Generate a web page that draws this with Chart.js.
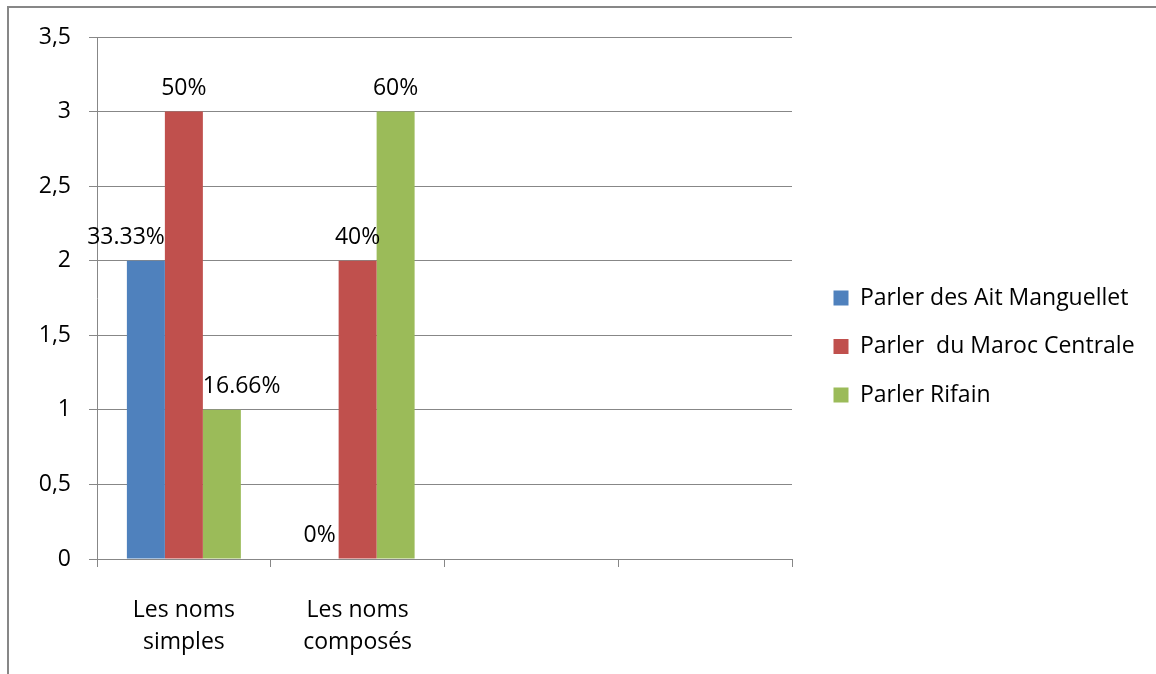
<!DOCTYPE html>
<html>
<head>
<meta charset="utf-8">
<script src="https://cdn.jsdelivr.net/npm/chart.js@4/dist/chart.umd.min.js"></script>
<style>
  html, body { margin: 0; padding: 0; background: #ffffff; }
  #wrap { position: relative; width: 1156px; height: 674px; overflow: hidden; }
  #frame { position: absolute; left: 7px; top: 6px; width: 1200px; height: 700px;
           border-top: 2px solid #878787; border-left: 2px solid #878787; pointer-events: none; }
  canvas { position: absolute; left: 0; top: 0; }
</style>
</head>
<body>
<div id="wrap">
  <canvas id="c" width="1156" height="674"></canvas>
  <div id="frame"></div>
</div>
<script>
// ---- data ----
const categories = [["Les noms", "simples"], ["Les noms", "composés"], "", ""];
const seriesNames = ["Parler des Ait Manguellet", "Parler  du Maroc Centrale", "Parler Rifain"];
const aitManguellet = [2, 0, null, null];
const marocCentrale = [3, 2, null, null];
const rifain = [1, 3, null, null];
const aitLabels = ["33.33%", "0%"];
const marocLabels = ["50%", "40%"];
const rifainLabels = ["16.66%", "60%"];
const yTickLabels = ["0", "0,5", "1", "1,5", "2", "2,5", "3", "3,5"];

// ---- style ----
const FONT = "'Open Sans'";
const FS = 23;
const GRID = "#878787";
const COLORS = ["#4F81BD", "#C0504D", "#9BBB59"];

const LEG_PAD = 25.5, LEG_BOX = 15, SPACER = 16, PLOT_RIGHT = 792;
const PAD_BOTTOM = 18, PLOT_BOTTOM = 559;
const mctx = document.createElement("canvas").getContext("2d");
mctx.font = FS + "px " + FONT;
const maxText = Math.max(...seriesNames.map(n => mctx.measureText(n).width));
const legendWidth = LEG_PAD + LEG_BOX + FS / 2 + maxText + 10;
const padRight = Math.max(0, 1156 - (PLOT_RIGHT + SPACER + legendWidth));

const valueLabelPlugin = {
  id: "valueLabels",
  afterDatasetsDraw(chart, args, opts) {
    const ctx = chart.ctx;
    ctx.save();
    ctx.font = opts.size + "px " + opts.family;
    ctx.fillStyle = opts.color;
    ctx.textBaseline = "alphabetic";
    opts.labels.forEach((arr, di) => {
      const meta = chart.getDatasetMeta(di);
      arr.forEach((txt, i) => {
        const bar = meta.data[i];
        if (!bar || !txt) return;
        const al = opts.align[i][di];
        let x = bar.x;
        if (al === "right") x = bar.x + bar.width / 2;
        if (al === "left") x = bar.x - bar.width / 2;
        ctx.textAlign = al;
        ctx.fillText(txt, x, bar.y - opts.gap);
      });
    });
    ctx.restore();
  }
};

new Chart(document.getElementById("c"), {
  type: "bar",
  data: {
    labels: categories,
    datasets: [
      { label: seriesNames[0], data: aitManguellet, backgroundColor: COLORS[0] },
      { label: seriesNames[1], data: marocCentrale, backgroundColor: COLORS[1] },
      { label: seriesNames[2], data: rifain, backgroundColor: COLORS[2] }
    ]
  },
  options: {
    responsive: false,
    animation: false,
    devicePixelRatio: 1,
    layout: { padding: { top: 37, left: 0, bottom: PAD_BOTTOM, right: padRight } },
    datasets: { bar: { barPercentage: 1, categoryPercentage: 0.656 } },
    scales: {
      x: {
        grid: { display: true, drawOnChartArea: false, drawTicks: true, tickLength: 8, color: GRID, offset: true },
        border: { display: true, color: GRID },
        ticks: { color: "#000", font: { family: FONT, size: FS, lineHeight: 1.4 }, padding: 27, maxRotation: 0, autoSkip: false },
        afterFit(s) { s.height = 674 - PAD_BOTTOM - PLOT_BOTTOM; }
      },
      y: {
        min: 0, max: 3.5,
        grid: { color: GRID, tickLength: 8, drawTicks: true },
        border: { display: true, color: GRID },
        ticks: { stepSize: 0.5, color: "#000", padding: 18, font: { family: FONT, size: FS },
                 callback: (v, i) => yTickLabels[i] },
        afterFit(s) { s.width = 97; }
      },
      spacer: {
        type: "linear", position: "right", display: true,
        grid: { display: false, drawTicks: false },
        ticks: { display: false },
        border: { display: false },
        afterFit(s) { s.width = SPACER; }
      }
    },
    plugins: {
      legend: {
        position: "right",
        align: "center",
        maxWidth: 1000,
        labels: { boxWidth: LEG_BOX, boxHeight: LEG_BOX, padding: LEG_PAD, color: "#000",
                  font: { family: FONT, size: FS } }
      },
      tooltip: { enabled: false },
      valueLabels: {
        labels: [aitLabels, marocLabels, rifainLabels],
        align: [["right", "center", "left"], ["center", "center", "center"]],
        gap: 17, size: FS, family: FONT, color: "#000"
      }
    }
  },
  plugins: [valueLabelPlugin]
});
</script>
</body>
</html>
